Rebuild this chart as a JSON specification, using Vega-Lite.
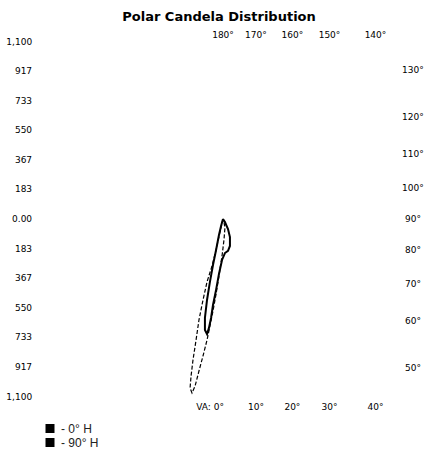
{
  "$schema": "https://vega.github.io/schema/vega-lite/v6.json",
  "width": 355,
  "height": 355,
  "autosize": {"type": "none"},
  "padding": {"left": 45.5, "top": 41.5, "right": 31.5, "bottom": 55.5},
  "background": "white",
  "title": {"text": "Polar Candela Distribution", "font": "DejaVu Sans", "fontSize": 13, "fontWeight": "bold", "color": "black", "anchor": "middle", "frame": "group", "offset": 7, "dx": -4},
  "config": {"view": {"stroke": null}},
  "datasets": {
    "curves": [
      {"plane": "0° H", "i": 1, "x": 0, "y": 0},
      {"plane": "0° H", "i": 2, "x": -12, "y": -43},
      {"plane": "0° H", "i": 3, "x": -25, "y": -99},
      {"plane": "0° H", "i": 4, "x": -43, "y": -192},
      {"plane": "0° H", "i": 5, "x": -62, "y": -285},
      {"plane": "0° H", "i": 6, "x": -81, "y": -390},
      {"plane": "0° H", "i": 7, "x": -99, "y": -502},
      {"plane": "0° H", "i": 8, "x": -112, "y": -613},
      {"plane": "0° H", "i": 9, "x": -112, "y": -688},
      {"plane": "0° H", "i": 10, "x": -99, "y": -713},
      {"plane": "0° H", "i": 11, "x": -87, "y": -675},
      {"plane": "0° H", "i": 12, "x": -74, "y": -613},
      {"plane": "0° H", "i": 13, "x": -62, "y": -533},
      {"plane": "0° H", "i": 14, "x": -43, "y": -440},
      {"plane": "0° H", "i": 15, "x": -25, "y": -341},
      {"plane": "0° H", "i": 16, "x": -6, "y": -254},
      {"plane": "0° H", "i": 17, "x": 12, "y": -211},
      {"plane": "0° H", "i": 18, "x": 31, "y": -198},
      {"plane": "0° H", "i": 19, "x": 43, "y": -167},
      {"plane": "0° H", "i": 20, "x": 43, "y": -112},
      {"plane": "0° H", "i": 21, "x": 31, "y": -62},
      {"plane": "0° H", "i": 22, "x": 12, "y": -19},
      {"plane": "0° H", "i": 23, "x": 0, "y": 0},
      {"plane": "90° H", "i": 1, "x": 0, "y": 0},
      {"plane": "90° H", "i": 2, "x": -19, "y": -81},
      {"plane": "90° H", "i": 3, "x": -43, "y": -192},
      {"plane": "90° H", "i": 4, "x": -68, "y": -291},
      {"plane": "90° H", "i": 5, "x": -99, "y": -390},
      {"plane": "90° H", "i": 6, "x": -124, "y": -502},
      {"plane": "90° H", "i": 7, "x": -149, "y": -626},
      {"plane": "90° H", "i": 8, "x": -167, "y": -750},
      {"plane": "90° H", "i": 9, "x": -186, "y": -874},
      {"plane": "90° H", "i": 10, "x": -198, "y": -973},
      {"plane": "90° H", "i": 11, "x": -204, "y": -1047},
      {"plane": "90° H", "i": 12, "x": -192, "y": -1078},
      {"plane": "90° H", "i": 13, "x": -173, "y": -1035},
      {"plane": "90° H", "i": 14, "x": -149, "y": -942},
      {"plane": "90° H", "i": 15, "x": -124, "y": -849},
      {"plane": "90° H", "i": 16, "x": -99, "y": -750},
      {"plane": "90° H", "i": 17, "x": -81, "y": -663},
      {"plane": "90° H", "i": 18, "x": -62, "y": -570},
      {"plane": "90° H", "i": 19, "x": -43, "y": -465},
      {"plane": "90° H", "i": 20, "x": -25, "y": -353},
      {"plane": "90° H", "i": 21, "x": -6, "y": -229},
      {"plane": "90° H", "i": 22, "x": 6, "y": -130},
      {"plane": "90° H", "i": 23, "x": 12, "y": -56},
      {"plane": "90° H", "i": 24, "x": 6, "y": -19},
      {"plane": "90° H", "i": 25, "x": 0, "y": 0}
    ],
    "left": [
      {"t": "1,100", "y": 1100}, {"t": "917", "y": 917}, {"t": "733", "y": 733},
      {"t": "550", "y": 550}, {"t": "367", "y": 367}, {"t": "183", "y": 183},
      {"t": "0.00", "y": 0}, {"t": "183", "y": -183}, {"t": "367", "y": -367},
      {"t": "550", "y": -550}, {"t": "733", "y": -733}, {"t": "917", "y": -917},
      {"t": "1,100", "y": -1100}
    ],
    "top": [
      {"t": "180°", "x": 0}, {"t": "170°", "x": 204}, {"t": "160°", "x": 430},
      {"t": "150°", "x": 660}, {"t": "140°", "x": 945}
    ],
    "bottom": [
      {"t": "VA: 0°", "x": -80}, {"t": "10°", "x": 204}, {"t": "20°", "x": 430},
      {"t": "30°", "x": 660}, {"t": "40°", "x": 945}
    ],
    "right": [
      {"t": "130°", "y": 923}, {"t": "120°", "y": 632}, {"t": "110°", "y": 403},
      {"t": "100°", "y": 192}, {"t": "90°", "y": 0}, {"t": "80°", "y": -192},
      {"t": "70°", "y": -403}, {"t": "60°", "y": -632}, {"t": "50°", "y": -923}
    ]
  },
  "layer": [
    {
      "data": {"name": "curves"},
      "transform": [{"filter": "datum.plane === '90° H'"}],
      "mark": {"type": "line", "strokeWidth": 1.2, "strokeDash": [4, 2], "clip": false},
      "encoding": {
        "x": {"field": "x", "type": "quantitative", "scale": {"domain": [-1100, 1100], "nice": false, "zero": false}, "axis": null},
        "y": {"field": "y", "type": "quantitative", "scale": {"domain": [-1100, 1100], "nice": false, "zero": false}, "axis": null},
        "order": {"field": "i"},
        "color": {"field": "plane", "type": "nominal",
          "scale": {"domain": ["0° H", "90° H"], "range": ["black", "black"]},
          "legend": {"orient": "none", "legendX": -1.5, "legendY": 381, "title": null, "symbolType": "square", "symbolSize": 81, "symbolFillColor": "black", "symbolStrokeColor": "black", "symbolStrokeWidth": 0, "labelExpr": "'- ' + datum.label", "labelFont": "Liberation Sans", "labelFontSize": 12, "labelColor": "#222", "labelOffset": 5, "rowPadding": 2, "padding": 0}}
      }
    },
    {
      "data": {"name": "curves"},
      "transform": [{"filter": "datum.plane === '0° H'"}],
      "mark": {"type": "line", "strokeWidth": 2, "clip": false},
      "encoding": {
        "x": {"field": "x", "type": "quantitative"},
        "y": {"field": "y", "type": "quantitative"},
        "order": {"field": "i"},
        "color": {"field": "plane", "type": "nominal"}
      }
    },
    {
      "data": {"name": "left"},
      "mark": {"type": "text", "align": "right", "baseline": "middle", "font": "DejaVu Sans", "fontSize": 9, "color": "black"},
      "encoding": {
        "x": {"datum": -1183, "type": "quantitative"},
        "y": {"field": "y", "type": "quantitative"},
        "text": {"field": "t"}
      }
    },
    {
      "data": {"name": "top"},
      "mark": {"type": "text", "align": "center", "baseline": "middle", "font": "DejaVu Sans", "fontSize": 9, "color": "black"},
      "encoding": {
        "x": {"field": "x", "type": "quantitative"},
        "y": {"datum": 1140, "type": "quantitative"},
        "text": {"field": "t"}
      }
    },
    {
      "data": {"name": "bottom"},
      "mark": {"type": "text", "align": "center", "baseline": "middle", "font": "DejaVu Sans", "fontSize": 9, "color": "black"},
      "encoding": {
        "x": {"field": "x", "type": "quantitative"},
        "y": {"datum": -1165, "type": "quantitative"},
        "text": {"field": "t"}
      }
    },
    {
      "data": {"name": "right"},
      "mark": {"type": "text", "align": "center", "baseline": "middle", "font": "DejaVu Sans", "fontSize": 9, "color": "black"},
      "encoding": {
        "x": {"datum": 1177, "type": "quantitative"},
        "y": {"field": "y", "type": "quantitative"},
        "text": {"field": "t"}
      }
    }
  ]
}
